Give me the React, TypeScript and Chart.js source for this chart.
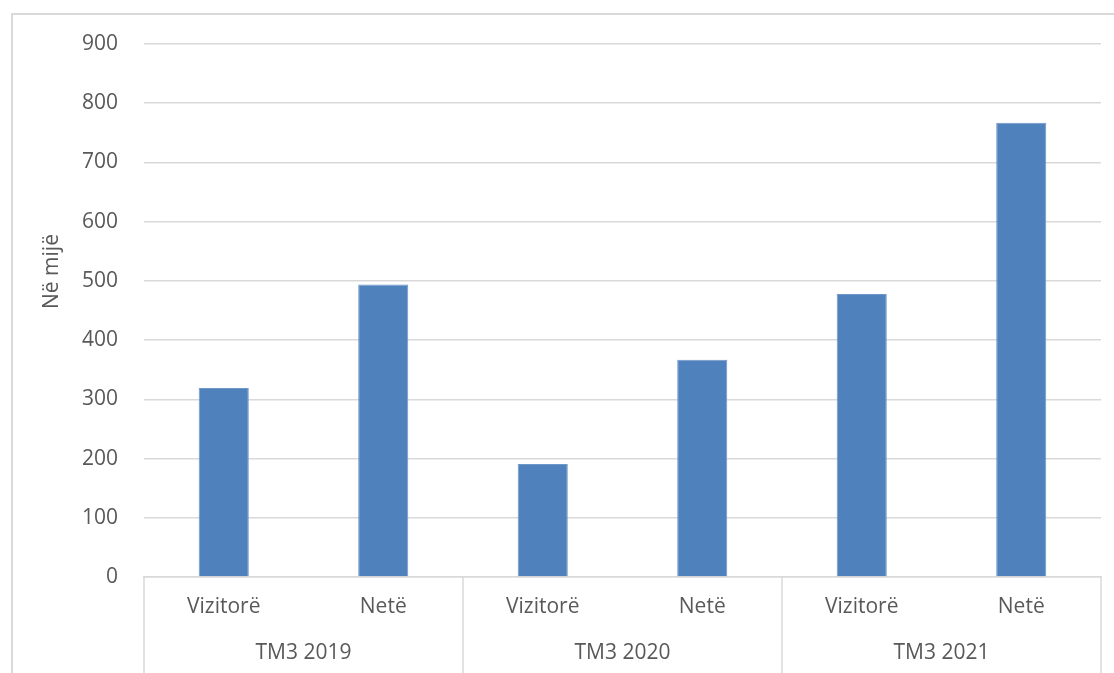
import React, { useEffect, useRef } from "react";
import { Chart, registerables } from "chart.js";

Chart.register(...registerables);

const subCategories = ["Vizitorë", "Netë", "Vizitorë", "Netë", "Vizitorë", "Netë"];
const groupLabels = ["TM3 2019", "TM3 2020", "TM3 2021"];
const values = [319, 494, 191, 367, 478, 767];
const yMin = 0;
const yMax = 900;
const yStep = 100;
const yAxisTitle = "Në mijë";

const FONT = "'Open Sans', 'Noto Sans', sans-serif";
const TEXT = "#595959";
const LINE = "#d9d9d9";
const BAR = "#4f81bd";

const groupPlugin = {
  id: "groupSeparators",
  afterDraw(chart: any) {
    const x = chart.scales.x;
    const ctx = chart.ctx;
    const n = subCategories.length;
    const per = n / groupLabels.length;
    const slot = (x.right - x.left) / n;
    ctx.save();
    ctx.strokeStyle = LINE;
    ctx.lineWidth = 1.5;
    for (let g = 0; g <= groupLabels.length; g++) {
      const px = Math.round(x.left + g * per * slot);
      ctx.beginPath();
      ctx.moveTo(px, chart.chartArea.bottom);
      ctx.lineTo(px, chart.height);
      ctx.stroke();
    }
    // y axis title
    const y = chart.scales.y;
    ctx.translate(52, (y.top + y.bottom) / 2 - 39);
    ctx.rotate(-Math.PI / 2);
    ctx.fillStyle = TEXT;
    ctx.font = `21px ${FONT}`;
    ctx.textAlign = "center";
    ctx.textBaseline = "middle";
    ctx.fillText(yAxisTitle, 0, 0);
    ctx.restore();
  },
};

export default function App() {
  const ref = useRef<HTMLCanvasElement>(null);

  useEffect(() => {
    if (!ref.current) return;
    const chart = new Chart(ref.current, {
      type: "bar",
      data: {
        labels: subCategories,
        datasets: [
          {
            data: values,
            backgroundColor: BAR,
            borderColor: "#6f97c8",
            borderWidth: 1,
            barPercentage: 1,
            categoryPercentage: 0.314,
            xAxisID: "x",
          },
        ],
      },
      options: {
        responsive: false,
        animation: false,
        devicePixelRatio: 1,
        layout: { padding: { left: 0, right: 13, top: 44, bottom: 0 } },
        plugins: {
          legend: { display: false },
          tooltip: { enabled: false },
          title: { display: false },
        },
        scales: {
          x: {
            type: "category",
            position: "bottom",
            weight: 0,
            offset: true,
            grid: { display: false, drawTicks: false },
            border: { display: true, color: LINE, width: 1.5 },
            ticks: {
              color: TEXT,
              font: { family: FONT, size: 21 },
              padding: 17,
              maxRotation: 0,
              autoSkip: false,
            },
            afterFit: (s: any) => {
              s.height = 56;
            },
          },
          x2: {
            type: "category",
            position: "bottom",
            weight: 1,
            labels: groupLabels,
            offset: true,
            grid: { display: false, drawTicks: false },
            border: { display: false },
            ticks: {
              color: TEXT,
              font: { family: FONT, size: 21 },
              padding: 7,
              maxRotation: 0,
              autoSkip: false,
            },
            afterFit: (s: any) => {
              s.height = 40;
            },
          },
          y: {
            type: "linear",
            min: yMin,
            max: yMax,
            grid: { color: LINE, lineWidth: 1.5, drawTicks: false },
            border: { display: false },
            ticks: {
              stepSize: yStep,
              color: TEXT,
              font: { family: FONT, size: 21 },
              padding: 26,
            },
            afterFit: (s: any) => {
              s.width = 144;
            },
          },
        },
      },
      plugins: [groupPlugin],
    });
    return () => chart.destroy();
  }, []);

  return (
    <div>
      <div
        style={{
          position: "fixed",
          left: 11,
          top: 13,
          width: 1200,
          height: 800,
          border: `2px solid ${LINE}`,
          boxSizing: "border-box",
        }}
      />
      <canvas
        ref={ref}
        width={1114}
        height={673}
        style={{ position: "fixed", left: 0, top: 0, width: 1114, height: 673 }}
      />
    </div>
  );
}
